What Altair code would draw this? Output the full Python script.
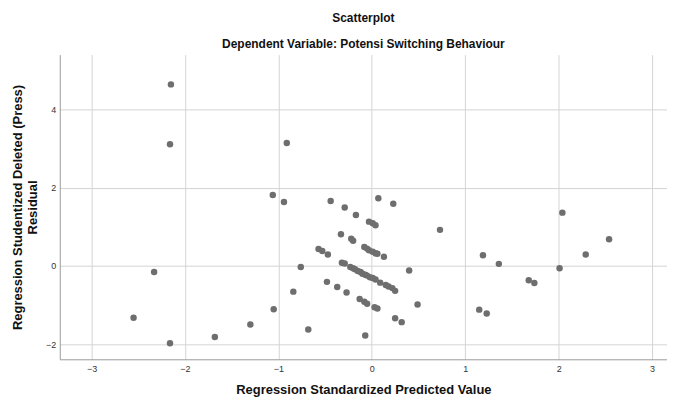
import altair as alt
import pandas as pd

pred = [-2.15, -2.16, -0.91, -1.06, -0.94, -0.44, -0.29, -0.17, 0.07, 0.23,
        -0.03, 0.01, 0.04, 0.73, -0.33, -0.22, -0.20, -0.57, -0.53, -0.47,
        -0.08, -0.05, -0.03, 0.01, 0.04, 0.06, 0.13, -0.76, -0.32, -0.29,
        -0.23, -0.20, -0.18, -0.15, -0.12, -0.10, -0.07, -0.05, -0.02, 0.01, 0.04,
        0.09, 0.15, 0.18, 0.22, 0.25, 0.40, -0.48, -0.37, -0.27,
        -0.13, -0.08, -0.05, 0.03, 0.06, 0.49, 0.25, 0.32, -0.68, -0.07,
        1.19, 1.36, 1.15, 1.23, 2.04, 2.54, 2.29, 2.01, 1.68, 1.74,
        -2.33, -2.55, -2.16, -1.68, -1.30, -1.05, -0.84]
resid = [4.64, 3.11, 3.14, 1.81, 1.63, 1.66, 1.49, 1.30, 1.73, 1.59,
         1.13, 1.09, 1.04, 0.92, 0.81, 0.69, 0.64, 0.43, 0.38, 0.29,
         0.48, 0.44, 0.40, 0.36, 0.32, 0.31, 0.23, -0.03, 0.08, 0.06,
         -0.03, -0.06, -0.09, -0.13, -0.16, -0.20, -0.23, -0.25, -0.29, -0.31, -0.35,
         -0.43, -0.49, -0.53, -0.57, -0.64, -0.12, -0.41, -0.54, -0.68,
         -0.85, -0.92, -0.97, -1.06, -1.09, -0.99, -1.34, -1.44, -1.63, -1.78,
         0.27, 0.05, -1.12, -1.22, 1.36, 0.68, 0.29, -0.06, -0.37, -0.44,
         -0.16, -1.33, -1.98, -1.82, -1.50, -1.11, -0.66]

x_ticks = [-3, -2, -1, 0, 1, 2, 3]
y_ticks = [-2, 0, 2, 4]

df = pd.DataFrame({"pred": pred, "resid": resid})

FONT = "Liberation Sans"

chart = alt.Chart(df).mark_circle(size=42, color="#6e6e6e", opacity=1).encode(
    x=alt.X("pred:Q",
            scale=alt.Scale(domain=[-3.34, 3.16], nice=False, zero=False),
            axis=alt.Axis(values=x_ticks, title="Regression Standardized Predicted Value",
                          ticks=False, tickSize=0, labelPadding=5, labelFontSize=9,
                          labelColor="#333333", labelFont=FONT,
                          titleFont=FONT, titleFontSize=13, titleFontWeight="bold",
                          titleColor="#111111", titlePadding=10,
                          domainColor="#9a9a9a", gridColor="#d4d4d4", gridWidth=1)),
    y=alt.Y("resid:Q",
            scale=alt.Scale(domain=[-2.39, 5.40], nice=False, zero=False),
            axis=alt.Axis(values=y_ticks,
                          title=["Regression Studentized Deleted (Press)", "Residual"],
                          ticks=False, tickSize=0, labelPadding=4, labelFontSize=9,
                          labelColor="#333333", labelFont=FONT,
                          titleFont=FONT, titleFontSize=13, titleFontWeight="bold",
                          titleColor="#111111", titlePadding=6, titleLineHeight=15,
                          domainColor="#9a9a9a", gridColor="#d4d4d4", gridWidth=1)),
).properties(
    width=610, height=306,
    title=alt.TitleParams(text="Scatterplot",
                          subtitle="Dependent Variable: Potensi Switching Behaviour",
                          font=FONT, fontSize=12, fontWeight="bold", color="#111111",
                          subtitleFont=FONT, subtitleFontSize=12, subtitleFontWeight="bold",
                          subtitleColor="#111111", subtitlePadding=14, offset=4,
                          anchor="middle"),
    autosize=alt.AutoSizeParams(type="none"),
    padding={"left": 52, "top": 46, "right": 0, "bottom": 37},
).configure_view(stroke=None)

chart.save("out.html", embed_options={"renderer": "svg", "actions": False})
